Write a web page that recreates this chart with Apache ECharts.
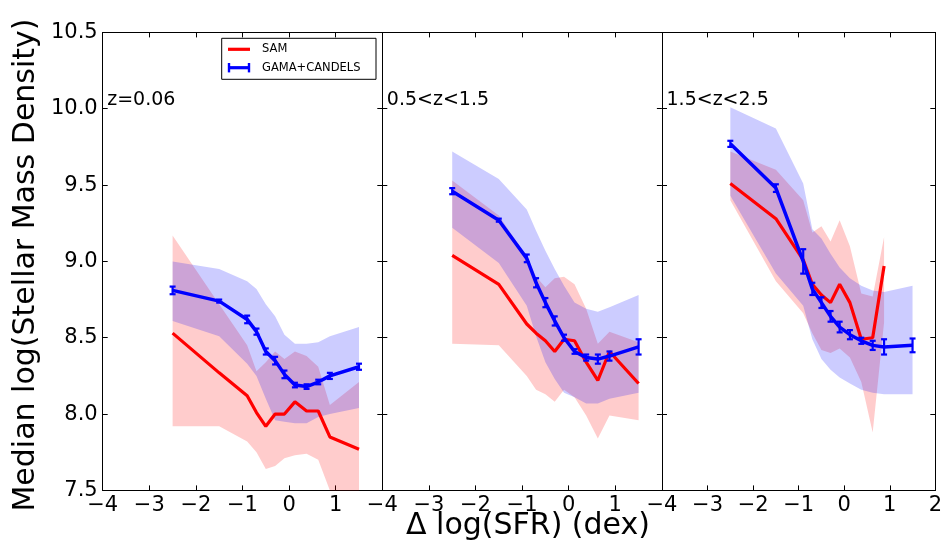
<!DOCTYPE html>
<html>
<head>
<meta charset="utf-8">
<script src="https://cdn.jsdelivr.net/npm/echarts@6/dist/echarts.min.js"></script>
<style>
html,body{margin:0;padding:0;background:#fff;}
#c{width:945px;height:541px;}
</style>
</head>
<body>
<div id="c"></div>
<script>
// ---- data ----
const panelLabels = ['z=0.06', '0.5<z<1.5', '1.5<z<2.5'];
const xTicks = [-4, -3, -2, -1, 0, 1, 2];
const yTicks = [7.5, 8.0, 8.5, 9.0, 9.5, 10.0, 10.5];
const dSFR = [-2.5, -1.5, -0.9, -0.7, -0.5, -0.3, -0.1, 0.125, 0.375, 0.625, 0.875, 1.5];

// Panel 1: z=0.06
const samMed1 = [8.53, 8.27, 8.12, 8.01, 7.92, 8.00, 8.00, 8.08, 8.02, 8.02, 7.85, 7.77];
const samLo1  = [7.92, 7.92, 7.82, 7.75, 7.64, 7.66, 7.71, 7.73, 7.74, 7.70, 7.50, 7.31];
const samHi1  = [9.17, 8.72, 8.45, 8.28, 8.34, 8.41, 8.36, 8.41, 8.38, 8.31, 8.06, 8.21];
const obsMed1 = [8.81, 8.74, 8.62, 8.54, 8.41, 8.35, 8.26, 8.19, 8.18, 8.21, 8.25, 8.31];
const obsErr1 = [0.025, 0.01, 0.025, 0.02, 0.02, 0.025, 0.025, 0.015, 0.015, 0.015, 0.02, 0.02];
const obsLo1  = [8.61, 8.51, 8.33, 8.25, 8.10, 7.96, 7.95, 7.94, 7.94, 7.98, 8.00, 8.04];
const obsHi1  = [9.00, 8.95, 8.87, 8.82, 8.72, 8.64, 8.52, 8.46, 8.46, 8.47, 8.51, 8.57];

// Panel 2: 0.5<z<1.5
const samMed2 = [9.04, 8.85, 8.59, 8.53, 8.48, 8.41, 8.49, 8.48, 8.34, 8.22, 8.41, 8.20];
const samLo2  = [8.46, 8.45, 8.25, 8.16, 8.13, 8.08, 8.16, 8.11, 7.99, 7.84, 7.99, 7.96];
const samHi2  = [9.53, 9.30, 9.03, 8.90, 8.83, 8.89, 8.90, 8.85, 8.69, 8.46, 8.54, 8.47];
const obsMed2 = [9.46, 9.27, 9.02, 8.86, 8.73, 8.61, 8.50, 8.41, 8.37, 8.36, 8.38, 8.44];
const obsErr2 = [0.02, 0.01, 0.025, 0.03, 0.03, 0.03, 0.02, 0.015, 0.02, 0.03, 0.03, 0.05];
const obsLo2  = [9.22, 8.99, 8.71, 8.51, 8.34, 8.23, 8.14, 8.11, 8.07, 8.07, 8.10, 8.14];
const obsHi2  = [9.72, 9.54, 9.34, 9.20, 9.07, 8.95, 8.84, 8.73, 8.69, 8.67, 8.70, 8.78];

// Panel 3: 1.5<z<2.5
const samMed3 = [9.51, 9.28, 9.01, 8.85, 8.78, 8.73, 8.85, 8.73, 8.49, 8.50, 8.97];
const samLo3  = [9.40, 8.87, 8.66, 8.53, 8.42, 8.40, 8.43, 8.37, 8.21, 7.88, 8.60];
const samHi3  = [9.72, 9.60, 9.40, 9.19, 9.23, 9.13, 9.27, 9.10, 8.79, 8.77, 9.16];
const obsMed3 = [9.77, 9.48, 9.00, 8.82, 8.73, 8.64, 8.57, 8.52, 8.48, 8.45, 8.44, 8.45];
const obsErr3 = [0.02, 0.025, 0.08, 0.04, 0.035, 0.035, 0.035, 0.03, 0.02, 0.03, 0.05, 0.045];
const obsLo3  = [9.43, 8.92, 8.71, 8.49, 8.36, 8.29, 8.24, 8.20, 8.16, 8.14, 8.13, 8.13];
const obsHi3  = [10.01, 9.87, 9.51, 9.21, 9.15, 9.05, 8.96, 8.89, 8.84, 8.81, 8.80, 8.84];

const panels = [
  {samMed: samMed1, samLo: samLo1, samHi: samHi1, obsMed: obsMed1, obsErr: obsErr1, obsLo: obsLo1, obsHi: obsHi1},
  {samMed: samMed2, samLo: samLo2, samHi: samHi2, obsMed: obsMed2, obsErr: obsErr2, obsLo: obsLo2, obsHi: obsHi2},
  {samMed: samMed3, samLo: samLo3, samHi: samHi3, obsMed: obsMed3, obsErr: obsErr3, obsLo: obsLo3, obsHi: obsHi3}
];

// ---- chart ----
const FONT = 'DejaVu Sans';
const chart = echarts.init(document.getElementById('c'), null, {renderer: 'canvas'});
const GL = [102.7, 382.3, 662];
const GW = 279.6, GT = 32.4, GH = 458;

const fmtNum = v => (v < 0 ? '\u2212' + Math.abs(v) : String(v));

const grids = [], xAxes = [], yAxes = [], series = [];
for (let i = 0; i < 3; i++) {
  grids.push({left: GL[i], top: GT, width: GW, height: GH, show: false});
}
const axLine = {show: true, onZero: false, lineStyle: {color: '#000', width: 1}};
const tick = {show: true, inside: true, length: 5, lineStyle: {color: '#000', width: 1}};
for (let i = 0; i < 3; i++) {
  xAxes.push({
    gridIndex: i, type: 'value', position: 'bottom',
    min: xTicks[0], max: xTicks[xTicks.length - 1], interval: 1,
    axisLine: axLine, axisTick: tick, splitLine: {show: false},
    axisLabel: {
      show: true, color: '#000', fontFamily: FONT, fontSize: 21, margin: 5,
      showMinLabel: true, showMaxLabel: true,
      formatter: v => (i < 2 && v >= 2 ? '' : fmtNum(v))
    }
  });
}
for (let i = 0; i < 3; i++) {
  xAxes.push({
    gridIndex: i, type: 'value', position: 'top',
    min: xTicks[0], max: xTicks[xTicks.length - 1], interval: 1,
    axisLine: axLine, axisTick: tick, splitLine: {show: false},
    axisLabel: {show: false}
  });
}
for (let i = 0; i < 3; i++) {
  yAxes.push({
    gridIndex: i, type: 'value', position: 'left',
    min: yTicks[0], max: yTicks[yTicks.length - 1], interval: 0.5,
    axisLine: axLine, axisTick: tick, splitLine: {show: false},
    axisLabel: {
      show: i === 0, color: '#000', fontFamily: FONT, fontSize: 21, margin: 5,
      showMinLabel: true, showMaxLabel: true,
      formatter: v => v.toFixed(1)
    }
  });
}
for (let i = 0; i < 3; i++) {
  yAxes.push({
    gridIndex: i, type: 'value', position: 'right',
    min: yTicks[0], max: yTicks[yTicks.length - 1], interval: 0.5,
    axisLine: axLine, axisTick: tick, splitLine: {show: false},
    axisLabel: {show: false}
  });
}

// shaded range drawn as a polygon through the axis scales
function band(i, lo, hi, color, z) {
  series.push({
    type: 'custom', xAxisIndex: i, yAxisIndex: i, z: z, clip: true, silent: true,
    data: lo.map((v, k) => [dSFR[k], v, hi[k]]),
    encode: {x: 0, y: [1, 2]},
    animation: false,
    renderItem: (params, api) => {
      if (params.dataIndex !== 0) return null;
      const pts = [];
      for (let k = 0; k < lo.length; k++) pts.push(api.coord([dSFR[k], lo[k]]));
      for (let k = hi.length - 1; k >= 0; k--) pts.push(api.coord([dSFR[k], hi[k]]));
      return {type: 'polygon', shape: {points: pts}, style: {fill: color, stroke: null}};
    }
  });
}

panels.forEach((p, i) => {
  band(i, p.samLo, p.samHi, 'rgba(255,0,0,0.2)', 1);
  band(i, p.obsLo, p.obsHi, 'rgba(0,0,255,0.2)', 2);
  series.push({
    name: 'SAM', type: 'line', xAxisIndex: i, yAxisIndex: i, z: 3,
    data: p.samMed.map((v, k) => [dSFR[k], v]),
    symbol: 'none', lineStyle: {color: '#ff0000', width: 3.2}, animation: false
  });
  series.push({
    name: 'GAMA+CANDELS', type: 'line', xAxisIndex: i, yAxisIndex: i, z: 4,
    data: p.obsMed.map((v, k) => [dSFR[k], v]),
    symbol: 'none', lineStyle: {color: '#0000ff', width: 3.5}, animation: false
  });
  series.push({
    type: 'custom', xAxisIndex: i, yAxisIndex: i, z: 5,
    data: p.obsMed.map((v, k) => [dSFR[k], v, p.obsErr[k]]),
    encode: {x: 0, y: 1},
    animation: false,
    renderItem: (params, api) => {
      const x = api.value(0), y = api.value(1), e = api.value(2);
      const a = api.coord([x, y - e]);
      const b = api.coord([x, y + e]);
      const hw = 3;
      const st = {stroke: '#0000ff', lineWidth: 2.2};
      return {
        type: 'group',
        children: [
          {type: 'line', shape: {x1: a[0], y1: a[1], x2: b[0], y2: b[1]}, style: st},
          {type: 'line', shape: {x1: a[0] - hw, y1: a[1], x2: a[0] + hw, y2: a[1]}, style: st},
          {type: 'line', shape: {x1: b[0] - hw, y1: b[1], x2: b[0] + hw, y2: b[1]}, style: st}
        ]
      };
    }
  });
});

const graphics = [];
panelLabels.forEach((t, i) => {
  graphics.push({
    type: 'text', left: GL[i] + 4.5, top: 91, z: 50,
    style: {text: t, fontFamily: FONT, fontSize: 19, fill: '#000'}
  });
});
// axis titles
graphics.push({
  type: 'text', x: 26, y: 265, rotation: Math.PI / 2, z: 50,
  style: {text: 'Median log(Stellar Mass Density)', fontFamily: FONT, fontSize: 30, fill: '#000',
          align: 'center', verticalAlign: 'middle'}
});
graphics.push({
  type: 'text', x: 528, y: 526, z: 50,
  style: {text: '\u0394 log(SFR) (dex)', fontFamily: FONT, fontSize: 30, fill: '#000',
          align: 'center', verticalAlign: 'middle'}
});
// legend
graphics.push({
  type: 'group', z: 100,
  children: [
    {type: 'rect', shape: {x: 221.7, y: 38.3, width: 154.3, height: 41}, style: {fill: '#fff', stroke: '#000', lineWidth: 1}},
    {type: 'line', shape: {x1: 228, y1: 49.3, x2: 250, y2: 49.3}, style: {stroke: '#ff0000', lineWidth: 3.2}},
    {type: 'text', style: {x: 262, y: 49.3, text: 'SAM', fontFamily: FONT, fontSize: 11.5, fill: '#000', verticalAlign: 'middle'}},
    {type: 'line', shape: {x1: 229, y1: 67.7, x2: 249, y2: 67.7}, style: {stroke: '#0000ff', lineWidth: 3.2}},
    {type: 'line', shape: {x1: 229, y1: 63, x2: 229, y2: 72.4}, style: {stroke: '#0000ff', lineWidth: 2.4}},
    {type: 'line', shape: {x1: 249, y1: 63, x2: 249, y2: 72.4}, style: {stroke: '#0000ff', lineWidth: 2.4}},
    {type: 'text', style: {x: 262, y: 67.7, text: 'GAMA+CANDELS', fontFamily: FONT, fontSize: 11.5, fill: '#000', verticalAlign: 'middle'}}
  ]
});

chart.setOption({
  animation: false,
  backgroundColor: '#fff',
  grid: grids,
  xAxis: xAxes,
  yAxis: yAxes,
  series: series,
  graphic: graphics
});
</script>
</body>
</html>
